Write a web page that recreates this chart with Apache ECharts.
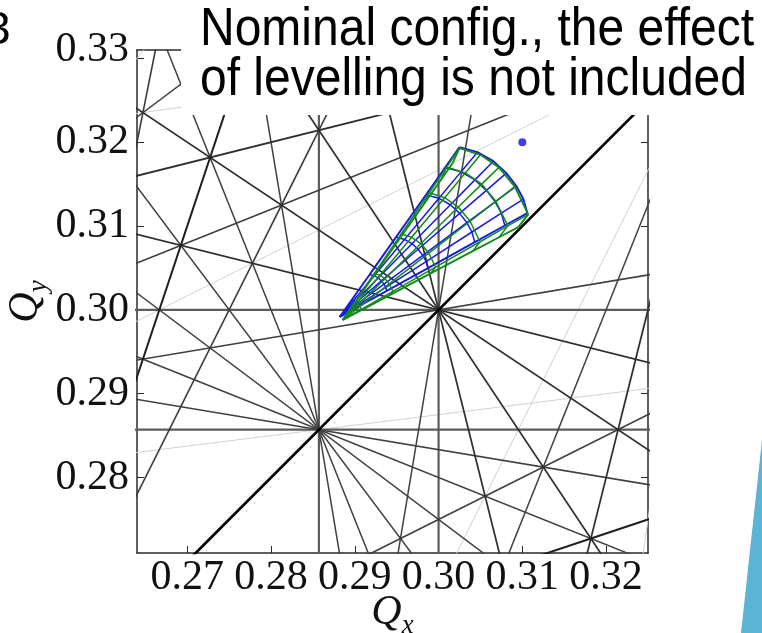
<!DOCTYPE html>
<html>
<head>
<meta charset="utf-8">
<script src="https://cdn.jsdelivr.net/npm/echarts@6/dist/echarts.min.js"></script>
<style>
  html, body { margin: 0; padding: 0; background: #ffffff; }
  #chart { width: 762px; height: 633px; }
</style>
</head>
<body>
<div id="chart"></div>
<script>
// ---- Tune window and ticks ----
const qxRange = [0.264, 0.325];
const qyRange = [0.271, 0.331];
const qxTicks = [0.27, 0.28, 0.29, 0.30, 0.31, 0.32];
const qyTicks = [0.28, 0.29, 0.30, 0.31, 0.32, 0.33];

// ---- Resonance lines, each written [m, n, p] for m*Qx + n*Qy = p ----
const couplingLine = [[1, -1, 0]];
const tuneGridLines = [[10, 0, 3], [0, 10, 3], [7, 0, 2], [0, 7, 2]];
const resonancesK4 = [[6, -2, 1], [2, -6, -1]];
const resonancesK5 = [[2, 8, 3], [4, 6, 3], [6, 4, 3], [8, 2, 3], [4, -1, 1], [1, -4, -1]];
const resonancesK6 = [[5, -1, 1], [8, -4, 1], [4, -8, -1]];
const resonancesK7 = [[6, 1, 2], [1, 6, 2], [5, 2, 2], [2, 5, 2], [4, 3, 2], [3, 4, 2],
                      [12, -2, 3], [2, -12, -3], [5, -2, 1], [2, -5, -1], [6, -8, -1]];
const resonancesWeak = [[1, -7, -2], [7, -1, 2], [1, -8, -2], [3, -6, -1], [6, -3, 1], [5, -4, 0]];

// ---- Nominal working point ----
const nominalTune = [0.31, 0.32];

// ---- Tune footprints: apex, then amplitude rings (each ring from the vertical to the horizontal plane) ----
const blueApex = [0.28821, 0.29917];
const blueRings = [
  [[0.28964, 0.30119], [0.28985, 0.30113], [0.29004, 0.30103], [0.29020, 0.30088], [0.29032, 0.30073], [0.29040, 0.30058], [0.29045, 0.30041]],
  [[0.29178, 0.30423], [0.29232, 0.30408], [0.29279, 0.30381], [0.29318, 0.30346], [0.29348, 0.30307], [0.29369, 0.30268], [0.29381, 0.30227]],
  [[0.29492, 0.30868], [0.29593, 0.30840], [0.29683, 0.30790], [0.29755, 0.30723], [0.29811, 0.30650], [0.29851, 0.30577], [0.29873, 0.30499]],
  [[0.29850, 0.31374], [0.30004, 0.31331], [0.30141, 0.31254], [0.30252, 0.31151], [0.30338, 0.31040], [0.30398, 0.30929], [0.30432, 0.30808]],
  [[0.30078, 0.31698], [0.30267, 0.31646], [0.30434, 0.31551], [0.30571, 0.31426], [0.30675, 0.31289], [0.30749, 0.31153], [0.30791, 0.31007]],
  [[0.30250, 0.31941], [0.30464, 0.31881], [0.30654, 0.31774], [0.30809, 0.31631], [0.30928, 0.31477], [0.31012, 0.31322], [0.31059, 0.31155]]
];
const greenApex = [0.28857, 0.29881];
const greenRings = [
  [[0.28988, 0.30068], [0.28996, 0.30086], [0.29021, 0.30078], [0.29043, 0.30063], [0.29062, 0.30040], [0.29078, 0.30007], [0.29067, 0.29992]],
  [[0.29211, 0.30386], [0.29233, 0.30434], [0.29301, 0.30413], [0.29360, 0.30372], [0.29411, 0.30310], [0.29455, 0.30221], [0.29423, 0.30180]],
  [[0.29512, 0.30816], [0.29554, 0.30905], [0.29679, 0.30866], [0.29789, 0.30791], [0.29884, 0.30676], [0.29964, 0.30511], [0.29905, 0.30435]],
  [[0.29826, 0.31264], [0.29888, 0.31397], [0.30073, 0.31338], [0.30236, 0.31227], [0.30376, 0.31057], [0.30495, 0.30813], [0.30407, 0.30700]],
  [[0.30023, 0.31544], [0.30097, 0.31704], [0.30319, 0.31633], [0.30515, 0.31500], [0.30684, 0.31295], [0.30827, 0.31002], [0.30722, 0.30866]],
  [[0.30167, 0.31750], [0.30250, 0.31929], [0.30500, 0.31850], [0.30720, 0.31700], [0.30910, 0.31470], [0.31070, 0.31140], [0.30952, 0.30988]]
];

// A resonance line is extended past the window; the grid clips it.
function resonanceEnds(m, n, p) {
  if (Math.abs(n) >= Math.abs(m)) {
    const xa = qxRange[0] - 0.05, xb = qxRange[1] + 0.05;
    return [[xa, (p - m * xa) / n], [xb, (p - m * xb) / n]];
  }
  const ya = qyRange[0] - 0.05, yb = qyRange[1] + 0.05;
  return [[(p - n * ya) / m, ya], [(p - n * yb) / m, yb]];
}

function resonanceSeries(list, color, width) {
  return list.map(([m, n, p]) => ({
    type: 'line', data: resonanceEnds(m, n, p), symbol: 'none', silent: true,
    clip: true, z: 2, lineStyle: { color: color, width: width }
  }));
}

function footprintSeries(apex, rings, color) {
  const out = [];
  const last = rings.length - 1;
  rings.forEach((ring, i) => out.push({
    type: 'line', data: ring, symbol: 'none', silent: true, clip: true, z: 5,
    lineStyle: { color: color, width: i === last ? 1.9 : 1.5 }
  }));
  for (let k = 0; k < rings[0].length; k++) {
    out.push({
      type: 'line', data: [apex].concat(rings.map(r => r[k])), symbol: 'none', silent: true,
      clip: true, z: 5, lineStyle: { color: color, width: (k === 0 || k === rings[0].length - 1) ? 1.9 : 1.5 }
    });
  }
  return out;
}

const serif = 'Liberation Serif';
const axisColor = '#2a2a2a';
const labelSize = 42;
const nameRich = {
  q: { fontFamily: serif, fontStyle: 'italic', fontSize: 42, lineHeight: 42, color: '#111', padding: [0, 0, 5, 0], verticalAlign: 'bottom' },
  s: { fontFamily: serif, fontStyle: 'italic', fontSize: 27, lineHeight: 27, color: '#111', verticalAlign: 'bottom' }
};

function frameAxis(extra) {
  return Object.assign({
    type: 'value',
    splitLine: { show: false },
    axisLine: { show: true, onZero: false, lineStyle: { color: axisColor, width: 1.5 } },
    axisTick: { show: true, inside: true, length: 7, lineStyle: { color: axisColor, width: 1 } },
    axisLabel: { show: false }
  }, extra);
}

const chart = echarts.init(document.getElementById('chart'), null, { renderer: 'canvas' });

const series = []
  .concat(resonanceSeries(resonancesWeak, '#d2d2d2', 1))
  .concat(resonanceSeries(tuneGridLines, '#5c5c5c', 2.2))
  .concat(resonanceSeries(resonancesK7, '#404040', 1.5))
  .concat(resonanceSeries(resonancesK6, '#393939', 1.6))
  .concat(resonanceSeries(resonancesK5, '#2e2e2e', 1.7))
  .concat(resonanceSeries(resonancesK4, '#1e1e1e', 2))
  .concat(resonanceSeries(couplingLine, '#000000', 2.7))
  .concat(footprintSeries(blueApex, blueRings, '#1a1ae8'))
  .concat(footprintSeries(greenApex, greenRings, '#138a1c'))
  .concat([{
    type: 'scatter', data: [nominalTune], symbol: 'circle', symbolSize: 8, silent: true, z: 6,
    itemStyle: { color: '#0f0fe0' }
  }]);

chart.setOption({
  animation: false,
  backgroundColor: '#ffffff',
  grid: { left: 137, top: 50, width: 511, height: 503, containLabel: false, outerBoundsMode: 'none' },
  xAxis: [
    frameAxis({
      position: 'bottom', min: qxRange[0], max: qxRange[1],
      axisTick: { show: true, inside: true, length: 7, customValues: qxTicks, lineStyle: { color: axisColor, width: 1 } },
      axisLabel: {
        show: true, customValues: qxTicks, formatter: v => v.toFixed(2),
        fontFamily: serif, fontSize: labelSize, color: '#111', margin: 4
      },
      name: '{q|Q}{s|x}', nameLocation: 'middle', nameGap: 44, nameMoveOverlap: false,
      nameTextStyle: { rich: nameRich }
    }),
    frameAxis({
      position: 'top', min: qxRange[0], max: qxRange[1],
      axisTick: { show: true, inside: true, length: 7, customValues: qxTicks, lineStyle: { color: axisColor, width: 1 } }
    })
  ],
  yAxis: [
    frameAxis({
      position: 'left', min: qyRange[0], max: qyRange[1],
      axisTick: { show: true, inside: true, length: 7, customValues: qyTicks, lineStyle: { color: axisColor, width: 1 } },
      axisLabel: {
        show: true, customValues: qyTicks,
        formatter: v => (Math.abs(v - 0.33) < 1e-6 ? '{top|0.33}' : v.toFixed(2)),
        fontFamily: serif, fontSize: labelSize, color: '#111', margin: 8,
        rich: { top: { fontFamily: serif, fontSize: labelSize, color: '#111', padding: [0, 0, 16, 0] } }
      },
      name: '{q|Q}{s|y}', nameLocation: 'middle', nameGap: 85, nameRotate: 90, nameMoveOverlap: false,
      nameTextStyle: { rich: nameRich }
    }),
    frameAxis({
      position: 'right', min: qyRange[0], max: qyRange[1],
      axisTick: { show: true, inside: true, length: 7, customValues: qyTicks, lineStyle: { color: axisColor, width: 1 } }
    })
  ],
  series: series,
  graphic: [
    { type: 'rect', x: 181, y: 0, shape: { width: 581, height: 115 }, style: { fill: '#ffffff' }, z: 100, silent: true },
    {
      type: 'text', x: 200, y: 5, scaleY: 1.1, z: 101, silent: true,
      style: {
        text: 'Nominal config., the effect\nof levelling is not included',
        fontFamily: 'Liberation Sans', fontSize: 48, lineHeight: 45.5, fill: '#000000'
      }
    },
    { type: 'text', x: -15, y: 8, z: 101, silent: true, style: { text: '3', fontFamily: 'Liberation Sans', fontSize: 46, fill: '#000000' } },
    { type: 'polygon', z: 100, silent: true, shape: { points: [[762, 440], [762, 633], [741, 633]] }, style: { fill: '#5bb4d3' } }
  ]
});
</script>
</body>
</html>
